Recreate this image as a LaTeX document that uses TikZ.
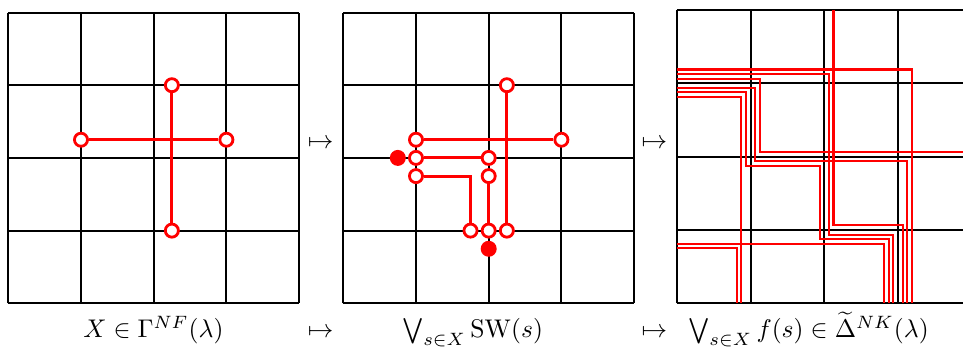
\documentclass[tikz,border=0pt]{standalone}
\usetikzlibrary{calc}
\tikzset{
  gridline/.style={line width=0.8pt, black},
  redline/.style={red, line width=1.2pt},
  thinred/.style={red, line width=0.8pt},
  opendot/.style={circle, draw=red, fill=white, line width=1.1pt, inner sep=0pt, minimum size=0.18cm},
  fulldot/.style={circle, fill=red, inner sep=0pt, minimum size=0.22cm},
  lbl/.style={anchor=base, inner sep=0pt},
}
\begin{document}
\begin{tikzpicture}
\useasboundingbox (0,0) rectangle (13.246,4.773);
\clip (0,0) rectangle (13.246,4.773);
% Panel 1
\begin{scope}[shift={(0.114,0.601)}]
  \draw[gridline] (0,0) grid (4,4);
  \node[opendot] (a-t) at (2.25,3) {};
  \node[opendot] (a-b) at (2.25,1) {};
  \node[opendot] (a-l) at (1,2.25) {};
  \node[opendot] (a-r) at (3,2.25) {};
  \draw[redline] (a-l) -- (a-r);
  \draw[redline] (a-t) -- (a-b);
\end{scope}
% Panel 2
\begin{scope}[shift={(4.722,0.601)}]
  \draw[gridline] (0,0) grid (4,4);
  \node[opendot] (b-t) at (2.25,3) {};
  \node[opendot] (b-b) at (2.25,1) {};
  \node[opendot] (b-l) at (1,2.25) {};
  \node[opendot] (b-r) at (3,2.25) {};
  \node[opendot] (b-a) at (1,2) {};
  \node[opendot] (b-c) at (2,2) {};
  \node[opendot] (b-d) at (1,1.75) {};
  \node[opendot] (b-e) at (1.75,1) {};
  \node[opendot] (b-f) at (2,1.75) {};
  \node[opendot] (b-g) at (2,1) {};
  \node[fulldot] (b-x) at (0.75,2) {};
  \node[fulldot] (b-y) at (2,0.75) {};
  \draw[redline] (b-l) -- (b-r);
  \draw[redline] (b-t) -- (b-b);
  \draw[redline] (b-a) -- (b-c);
  \draw[redline] (b-d) -| (b-e);
  \draw[redline] (b-f) -- (b-g);
\end{scope}
% Panel 3
\begin{scope}[shift={(9.312,0.601)}, xscale=1.013, yscale=1.009]
  \draw[gridline] (0,0) grid (4,4);
  \draw[thinred] (0,3.1875) -| (3.1875,0);
  \draw[thinred] (0,3.125) -| (2.0625,0.9375) -| (2.9375,0);
  \draw[thinred] (2.125,4) |- (3.0625,1.0625) -- (3.0625,0);
  \draw[thinred] (0,3.0625) -| (1.125,2.0625) -- (4,2.0625);
  \draw[thinred] (0,2.9375) -| (1.0625,1.9375) -| (3.125,0);
  \draw[thinred] (0,2.875) -| (0.9375,1.875) -| (1.9375,0.875) -| (2.875,0);
  \draw[thinred] (0,2.8125) -| (0.875,0);
  \draw[thinred] (0,0.8125) -| (2.8125,0);
  \draw[thinred] (0,0.75) -| (0.8125,0);
\end{scope}
% arrows between panels
\node (m1) at (4.41,2.79) {$\mapsto$};
\node (m2) at (9.0,2.79) {$\mapsto$};
% labels
\node[lbl] (l1) at (2.11,0.133) {$X\in\Gamma^{NF}(\lambda)$};
\node[lbl] (l1m) at (4.41,0.133) {$\mapsto$};
\node[lbl] (l2) at (6.5,0.133) {$\bigvee_{s\in X}\mathrm{SW}(s)$};
\node[lbl] (l2m) at (9.0,0.133) {$\mapsto$};
\node[lbl] (l3) at (11.12,0.133) {$\bigvee_{s\in X}f(s)\in\widetilde{\Delta}^{NK}(\lambda)$};
\end{tikzpicture}
\end{document}
